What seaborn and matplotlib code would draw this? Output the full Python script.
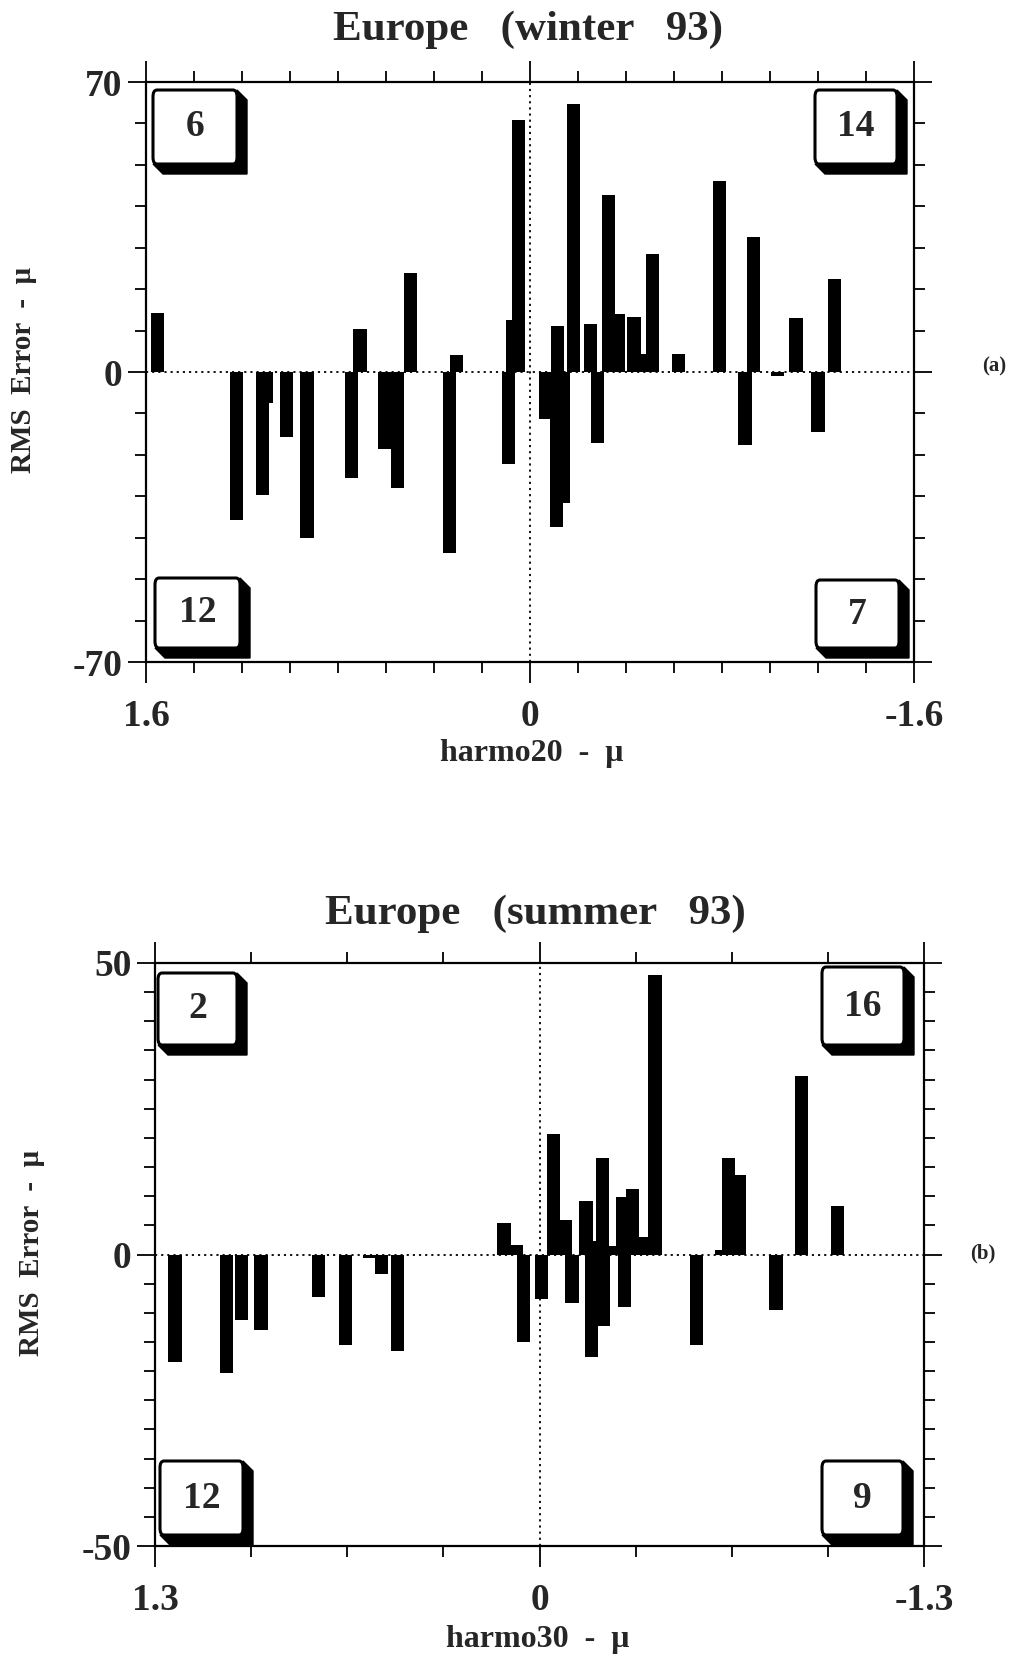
import numpy as np
import pandas as pd
import matplotlib
matplotlib.use("Agg")
import matplotlib.pyplot as plt
import seaborn as sns
from matplotlib.patches import Polygon, FancyBboxPatch

# ---------------- data ----------------
winter_x = [1.551, 1.224, 1.113, 1.100, 1.014, 0.929, 0.744, 0.708, 0.606, 0.552,
            0.497, 0.335, 0.305, 0.091, 0.073, 0.049,
            -0.063, -0.110, -0.113, -0.140, -0.181, -0.253, -0.281, -0.328, -0.368,
            -0.433, -0.480, -0.510, -0.620, -0.791, -0.896, -0.932, -1.030, -1.108,
            -1.200, -1.268]
winter_rms = [14.3, -35.7, -29.7, -7.5, -15.7, -40.0, -25.5, 10.5, -18.6, -28.0,
              23.8, -43.8, 4.0, -22.3, 12.5, 60.8,
              -11.3, -37.5, 11.2, -31.7, 64.7, 11.7, -17.2, 42.8, 14.0,
              13.2, 4.3, 28.6, 4.4, 46.2, -17.7, 32.5, -1.0, 13.0,
              -14.6, 22.5]

summer_x = [1.232, 1.058, 1.007, 0.942, 0.747, 0.655, 0.575, 0.534, 0.479,
            0.120, 0.077, 0.055,
            -0.007, -0.047, -0.087, -0.110, -0.157, -0.175, -0.185, -0.212, -0.216,
            -0.249, -0.280, -0.287, -0.314, -0.350, -0.390, -0.531, -0.615, -0.638,
            -0.677, -0.800, -0.885, -1.008]
summer_rms = [-18.4, -20.3, -11.2, -12.9, -7.3, -15.6, -0.6, -3.3, -16.5,
              5.4, 1.6, -15.0,
              -7.7, 20.7, 6.0, -8.4, 9.2, -17.5, 2.4, 16.6, -12.2,
              1.5, 9.9, -9.0, 11.2, 3.0, 47.9, -15.6, 0.8, 16.6,
              13.7, -9.6, 30.6, 8.4]

winter_counts = ["6", "14", "12", "7"]   # top-left, top-right, bottom-left, bottom-right
summer_counts = ["2", "16", "12", "9"]
winter_xticklabels = ["1.6", "0", "-1.6"]
winter_yticklabels = ["-70", "0", "70"]
summer_xticklabels = ["1.3", "0", "-1.3"]
summer_yticklabels = ["-50", "0", "50"]
titles = ["Europe   (winter   93)", "Europe   (summer   93)"]
xlabels = ["harmo20  -  \u03bc", "harmo30  -  \u03bc"]
ylabel = "RMS  Error  -  \u03bc"
panel_tags = ["(a)", "(b)"]

# ---------------- style ----------------
W, H = 1015, 1655
sns.set_theme(style="ticks")
plt.rcParams['font.family'] = ['Liberation Serif', 'DejaVu Serif']
plt.rcParams['font.weight'] = 'bold'
plt.rcParams['axes.unicode_minus'] = False

fig = plt.figure(figsize=(W / 100, H / 100), dpi=100)
fig.patch.set_facecolor("white")


def fx(x):
    return x / W


def fy(y):
    return 1 - y / H


def add_axes_px(l, t, r, b):
    return fig.add_axes([fx(l), fy(b), (r - l) / W, (b - t) / H])


def quad_box(l, t, r, b, label, d=10):
    pts = [(l, b), (l + d, b + d), (r + d, b + d), (r + d, t + d), (r, t), (r, b)]
    fig.patches.append(Polygon([(fx(x), fy(y)) for x, y in pts], closed=True,
                               facecolor="black", edgecolor="black",
                               transform=fig.transFigure, zorder=5))
    fig.patches.append(FancyBboxPatch((fx(l), fy(b)), (r - l) / W, (b - t) / H,
                                      boxstyle="round,pad=0,rounding_size=0.004",
                                      facecolor="white", edgecolor="black", lw=2.2,
                                      transform=fig.transFigure, zorder=6))
    fig.text(fx((l + r) / 2), fy((t + b) / 2), label, ha="center", va="center",
             fontsize=27, fontweight="bold", zorder=7)


def draw_panel(ax, xs, vals, xlim, ylim, xticklabels, yticklabels, xminor, yminor, barw):
    df = pd.DataFrame({"x": xs, "rms": vals})
    mind = np.min(np.diff(np.unique(df["x"].values)))
    sns.barplot(data=df, x="x", y="rms", native_scale=True, orient="x",
                width=barw / mind, color="black", saturation=1, errorbar=None,
                linewidth=0, ax=ax, zorder=3)
    ax.axhline(0, color="black", lw=1.3, ls=(0, (1.2, 2.2)), zorder=1)
    ax.axvline(0, color="black", lw=1.3, ls=(0, (1.2, 2.2)), zorder=1)
    ax.set_xlim(xlim, -xlim)
    ax.set_ylim(-ylim, ylim)
    ax.set_xticks([xlim, 0, -xlim])
    ax.set_xticklabels(xticklabels)
    ax.set_yticks([-ylim, 0, ylim])
    ax.set_yticklabels(yticklabels)
    ax.set_xticks(xminor, minor=True)
    ax.set_yticks(yminor, minor=True)
    ax.set_xlabel("")
    ax.set_ylabel("")
    for s in ax.spines.values():
        s.set_visible(True)
        s.set_color("black")
        s.set_linewidth(1.6)
    ax.tick_params(axis="both", which="both", direction="out", color="black",
                   top=True, right=True, labeltop=False, labelright=False, width=1.3)
    ax.tick_params(axis="x", which="major", length=15, pad=12, labelsize=27)
    ax.tick_params(axis="y", which="major", length=13, pad=4, labelsize=27)
    ax.tick_params(axis="both", which="minor", length=8)
    for lab in ax.get_xticklabels() + ax.get_yticklabels():
        lab.set_fontweight("bold")
    ax.set_facecolor("white")


# ---------------- panel (a) ----------------
ax1 = add_axes_px(146, 82, 914, 662)
draw_panel(ax1, winter_x, winter_rms, 1.6, 70, winter_xticklabels, winter_yticklabels,
           np.round(np.arange(-1.6, 1.61, 0.2), 2), np.arange(-70, 71, 10), 0.055)
fig.text(fx(528), fy(30), titles[0], ha="center", va="center", fontsize=31, fontweight="bold")
fig.text(fx(532), fy(754), xlabels[0], ha="center", va="center", fontsize=23, fontweight="bold")
fig.text(fx(24), fy(370), ylabel, ha="center", va="center", rotation=90, fontsize=21, fontweight="bold")
fig.text(fx(994), fy(366), panel_tags[0], ha="center", va="center", fontsize=15, fontweight="bold")
quad_box(153, 90, 237, 164, winter_counts[0])
quad_box(815, 90, 897, 164, winter_counts[1])
quad_box(155, 578, 240, 648, winter_counts[2])
quad_box(816, 580, 899, 648, winter_counts[3])

# ---------------- panel (b) ----------------
ax2 = add_axes_px(155, 963, 924, 1546)
draw_panel(ax2, summer_x, summer_rms, 1.3, 50, summer_xticklabels, summer_yticklabels,
           np.round(np.arange(-1.3, 1.31, 0.325), 3), np.arange(-50, 51, 5), 0.045)
fig.text(fx(535), fy(914), titles[1], ha="center", va="center", fontsize=31, fontweight="bold")
fig.text(fx(538), fy(1639), xlabels[1], ha="center", va="center", fontsize=23, fontweight="bold")
fig.text(fx(32), fy(1253), ylabel, ha="center", va="center", rotation=90, fontsize=21, fontweight="bold")
fig.text(fx(983), fy(1253), panel_tags[1], ha="center", va="center", fontsize=15, fontweight="bold")
quad_box(158, 973, 237, 1045, summer_counts[0])
quad_box(822, 967, 904, 1045, summer_counts[1])
quad_box(160, 1461, 243, 1535, summer_counts[2])
quad_box(822, 1461, 903, 1535, summer_counts[3])

fig.savefig("out.png", dpi=100, facecolor="white")
